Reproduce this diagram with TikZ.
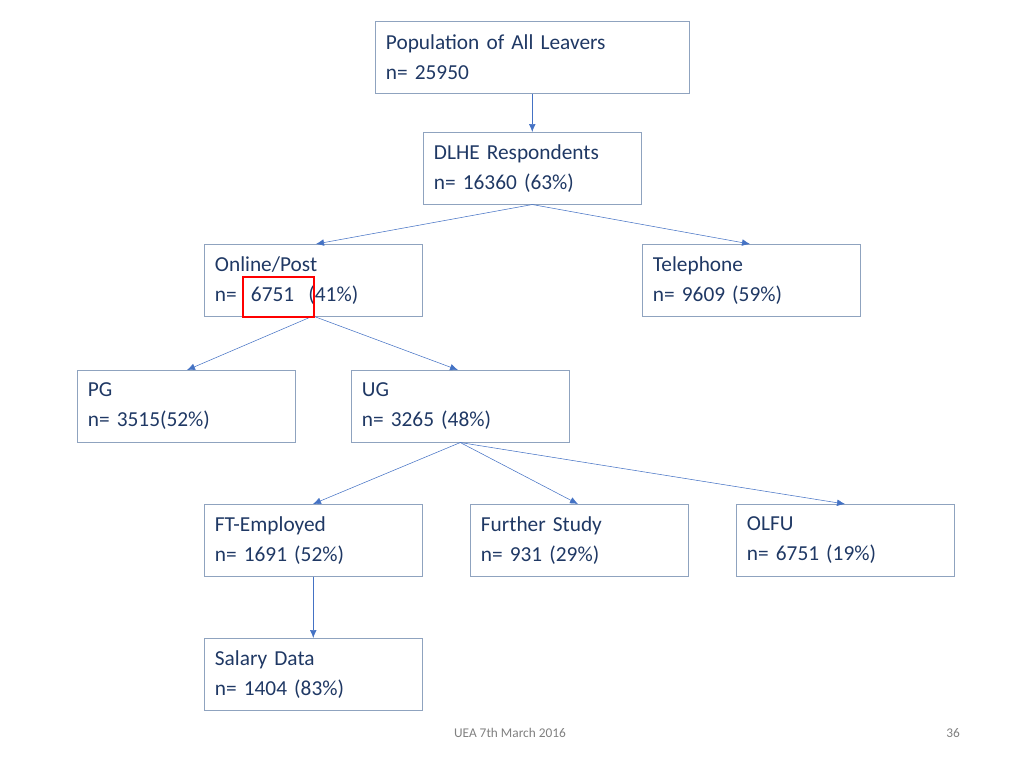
\documentclass[tikz,border=0pt]{standalone}
\usepackage{fontspec}
\setmainfont{Carlito}
\usetikzlibrary{positioning,arrows.meta}
\definecolor{navy}{HTML}{1F3864}
\definecolor{edge}{HTML}{4472C4}
\definecolor{frame}{HTML}{8FA3BF}
\tikzset{%
box/.style={draw=frame,anchor=north west,minimum width=#1,minimum height=54pt,
  text width=#1-16pt,align=left,inner sep=8pt,text=navy,font=\fontsize{16}{22.5}\selectfont},
link/.style={draw=edge,-{Latex[length=6pt,width=5pt]}},
footer/.style={text=gray,font=\fontsize{10}{12}\selectfont}
}
\begin{document}
\begin{tikzpicture}[x=0.75pt,y=-0.75pt]
  \useasboundingbox (0,0) rectangle (1024,768);

  \node[box=235.5pt] (pop) at (375,21) {Population of All Leavers\\n= 25950};
  \node[box=163.5pt] (dlhe) at (423,132) {DLHE Respondents\\n= 16360 (63\%)};
  \node[box=163.5pt] (online) at (204,244) {Online/Post\\n= \phantom{ }6751\phantom{ } (41\%)};
  \node[box=163.5pt] (tel) at (642,244) {Telephone\\n= 9609 (59\%)};
  \node[box=163.5pt] (pg) at (77,370) {PG\\n= 3515(52\%)};
  \node[box=163.5pt] (ug) at (351,370) {UG\\n= 3265 (48\%)};
  \node[box=163.5pt] (ft) at (204,504) {FT-Employed\\n= 1691 (52\%)};
  \node[box=163.5pt] (fs) at (470,504) {Further Study\\n= 931 (29\%)};
  \node[box=163.5pt] (olfu) at (736,504) {OLFU\\n= 6751 (19\%)};
  \node[box=163.5pt] (sal) at (204,638) {Salary Data\\n= 1404 (83\%)};

  % arrow targets
  \coordinate (onlineIn) at (316,244);
  \coordinate (telIn) at (750,244);
  \coordinate (pgIn) at (187,370);
  \coordinate (ugIn) at (458,370);
  \coordinate (ftIn) at (313,504);
  \coordinate (fsIn) at (578,504);
  \coordinate (olfuIn) at (845,504);
  \coordinate (onlineOut) at (313,316);

  \draw[link] (pop) -- (dlhe);
  \draw[link] (dlhe.south) -- (onlineIn);
  \draw[link] (dlhe.south) -- (telIn);
  \draw[link] (onlineOut) -- (pgIn);
  \draw[link] (onlineOut) -- (ugIn);
  \draw[link] (ug.south) -- (ftIn);
  \draw[link] (ug.south) -- (fsIn);
  \draw[link] (ug.south) -- (olfuIn);
  \draw[link] (ft) -- (sal);

  % highlight
  \draw[red,line width=1.6pt] (243,277) rectangle (314,317);

  \node[footer] (date) at (510,733) {UEA 7th March 2016};
  \node[footer] (page) at (953,733) {36};
\end{tikzpicture}
\end{document}
